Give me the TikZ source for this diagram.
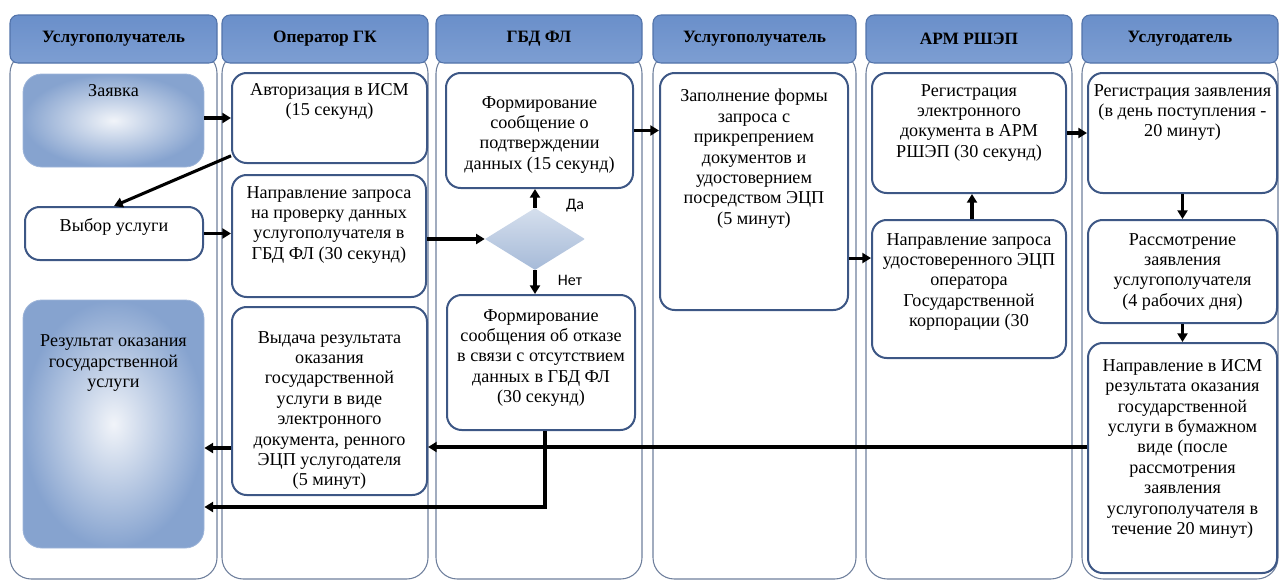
\documentclass[tikz,border=0pt]{standalone}
\usepackage{fontspec}
\setmainfont{Liberation Serif}
\newfontfamily\flagfont{Carlito}
\usetikzlibrary{arrows.meta,positioning,shapes.geometric}
\definecolor{laneline}{HTML}{6E7F9C}
\definecolor{boxline}{HTML}{3D5785}
\definecolor{headtop}{HTML}{6A8FCA}
\definecolor{headmid}{HTML}{BCCFEA}
\definecolor{headbot}{HTML}{7D9ED2}
\definecolor{headline}{HTML}{5273AA}
\definecolor{softblue}{HTML}{86A3CF}
\definecolor{softwhite}{HTML}{F1F4F9}
\definecolor{dectop}{HTML}{D5DFED}
\definecolor{decbot}{HTML}{A6BAD8}

\begin{document}
\begin{tikzpicture}[x=0.75pt, y=-0.75pt,
  lane/.style={draw=laneline, line width=0.8pt, rounded corners=16pt, minimum height=395.25pt, inner sep=0pt},
  head/.style={draw=headline, line width=0.8pt, rounded corners=6pt, top color=headtop, middle color=headmid, bottom color=headbot, minimum height=36pt, inner sep=0pt, font=\fontsize{13}{15}\selectfont\bfseries},
  stage/.style={draw=boxline, line width=1.5pt, rounded corners=11pt, fill=white, inner sep=0pt},
  soft/.style={draw=softblue!80, line width=0.6pt, rounded corners=14pt, inner color=softwhite, outer color=softblue, inner sep=0pt},
  txt/.style={align=center, inner sep=0pt, font=\fontsize{13.6}{15.3}\selectfont},
  dec/.style={diamond, minimum width=75pt, minimum height=46.5pt, inner sep=0pt, top color=dectop, bottom color=decbot},
  flag/.style={font=\flagfont\fontsize{12}{14}\selectfont, inner sep=0pt},
  arr/.style={-{Triangle[length=6.5pt, width=7.5pt]}, line width=2.3pt, black}
]
  \useasboundingbox (0,0) rectangle (1280,579);

  % lanes
  \node[lane, minimum width=155.25pt] (lane1) at (113.5,315.5) {};
  \node[lane, minimum width=154.5pt] (lane2) at (325,315.5) {};
  \node[lane, minimum width=154.5pt] (lane3) at (539,315.5) {};
  \node[lane, minimum width=152.25pt] (lane4) at (754.5,315.5) {};
  \node[lane, minimum width=154.5pt] (lane5) at (969,315.5) {};
  \node[lane, minimum width=147pt] (lane6) at (1180,315.5) {};

  \node[head, minimum width=155.25pt] (h1) at (113.5,39) {Услугополучатель};
  \node[head, minimum width=154.5pt] (h2) at (325,39) {Оператор ГК};
  \node[head, minimum width=154.5pt] (h3) at (539,39) {ГБД ФЛ};
  \node[head, minimum width=152.25pt] (h4) at (754.5,39) {Услугополучатель};
  \node[head, minimum width=154.5pt] (h5) at (969,39) {АРМ РШЭП};
  \node[head, minimum width=147pt] (h6) at (1180,39) {Услугодатель};

  % boxes
  \node[soft, minimum width=135.75pt, minimum height=69.75pt] (request) at (113.5,120.5) {};
  \node[stage, minimum width=146.25pt, minimum height=67.5pt] (auth) at (329.5,118) {};
  \node[stage, minimum width=133.5pt, minimum height=39.75pt] (choice) at (114,233.5) {};
  \node[stage, minimum width=145.5pt, minimum height=91.5pt] (check) at (329,236) {};
  \node[soft, minimum width=135.75pt, minimum height=186pt] (result) at (113.5,424) {};
  \node[stage, minimum width=146.25pt, minimum height=141pt] (issue) at (329.5,401) {};
  \node[stage, minimum width=140.25pt, minimum height=86.25pt] (confirm) at (539.5,130.5) {};
  \node[dec] (ask) at (535,239) {};
  \node[stage, minimum width=141pt, minimum height=101.25pt] (refusal) at (541,362.5) {};
  \node[stage, minimum width=141pt, minimum height=177.75pt] (form) at (754,191.5) {};
  \node[stage, minimum width=145.5pt, minimum height=90pt] (regdoc) at (969,133) {};
  \node[stage, minimum width=145.5pt, minimum height=103.5pt] (sign) at (969,289) {};
  \node[stage, minimum width=141.75pt, minimum height=90pt] (regapp) at (1182.5,133) {};
  \node[stage, minimum width=141.75pt, minimum height=77.25pt] (review) at (1182.5,271.5) {};
  \node[stage, minimum width=141.75pt, minimum height=172.5pt] (sendism) at (1182.5,458) {};

  % texts
  \node[txt, below=8.25pt of request.north] (request-t) {Заявка};
  \node[txt, below=8.25pt of auth.north] (auth-t) {Авторизация в ИСМ\\(15 секунд)};
  \node[txt, below=9pt of choice.north] (choice-t) {Выбор услуги};
  \node[txt, below=9pt of check.north] (check-t) {Направление запроса\\на проверку данных\\услугополучателя в\\ГБД ФЛ (30 секунд)};
  \node[txt, below=26.25pt of result.north] (result-t) {Результат оказания\\государственной\\услуги};
  \node[txt, below=18.75pt of issue.north] (issue-t) {Выдача результата\\оказания\\государственной\\услуги в виде\\электронного\\документа, ренного\\ЭЦП услугодателя\\(5 минут)};
  \node[txt, below=18pt of confirm.north] (confirm-t) {Формирование\\сообщение о\\подтверждении\\данных (15 секунд)};
  \node[txt, below=11.25pt of refusal.north] (refusal-t) {Формирование\\сообщения об отказе\\в связи с отсутствием\\данных в ГБД ФЛ\\(30 секунд)};
  \node[txt, below=12.75pt of form.north] (form-t) {Заполнение формы\\запроса с\\прикрепрением\\документов и\\удостовернием\\посредством ЭЦП\\(5 минут)};
  \node[txt, below=9pt of regdoc.north] (regdoc-t) {Регистрация\\электронного\\документа в АРМ\\РШЭП (30 секунд)};
  \node[txt, below=10.5pt of sign.north] (sign-t) {Направление запроса\\удостоверенного ЭЦП\\оператора\\Государственной\\корпорации (30};
  \node[txt, below=9pt of regapp.north] (regapp-t) {Регистрация заявления\\(в день поступления -\\20 минут)};
  \node[txt, below=10.5pt of review.north] (review-t) {Рассмотрение\\заявления\\услугополучателя\\(4 рабочих дня)};
  \node[txt, below=12.75pt of sendism.north] (sendism-t) {Направление в ИСМ\\результата оказания\\государственной\\услуги в бумажном\\виде (после\\рассмотрения\\заявления\\услугополучателя в\\течение 20 минут)};

  \node[flag] (yes) at (575,206) {Да};
  \node[flag] (no) at (570,280) {Нет};

  % connectors
  \coordinate (fout) at ([yshift=-49.9pt]form.east);
  \coordinate (back) at ([yshift=8.25pt]sendism.west);
  \coordinate (give) at ([yshift=-35.25pt]issue.west);
  \coordinate (deny) at ([yshift=-62.25pt]result.east);

  \draw[arr] (request.east |- auth.west) -- (auth.west);
  \draw[arr] (auth.201) -- (choice.north);
  \draw[arr] (choice.east) -- (choice.east -| check.west);
  \draw[arr] (check.east |- ask.west) -- (ask.west);
  \draw[arr] (ask.north) -- (ask.north |- confirm.south);
  \draw[arr] (ask.south) -- (ask.south |- refusal.north);
  \draw[arr] (confirm.east) -- (confirm.east -| form.west);
  \draw[arr] (fout) -- (fout -| sign.west);
  \draw[arr] ([xshift=2.25pt]sign.north) -- ([xshift=2.25pt]regdoc.south);
  \draw[arr] (regdoc.east) -- (regapp.west);
  \draw[arr] (regapp.south) -- (review.north);
  \draw[arr] (review.south) -- (sendism.north);
  \draw[arr] (back) -- (back -| issue.east);
  \draw[arr] (give) -- (give -| result.east);
  \draw[arr] ([xshift=3pt]refusal.south) |- (deny);
\end{tikzpicture}
\end{document}
